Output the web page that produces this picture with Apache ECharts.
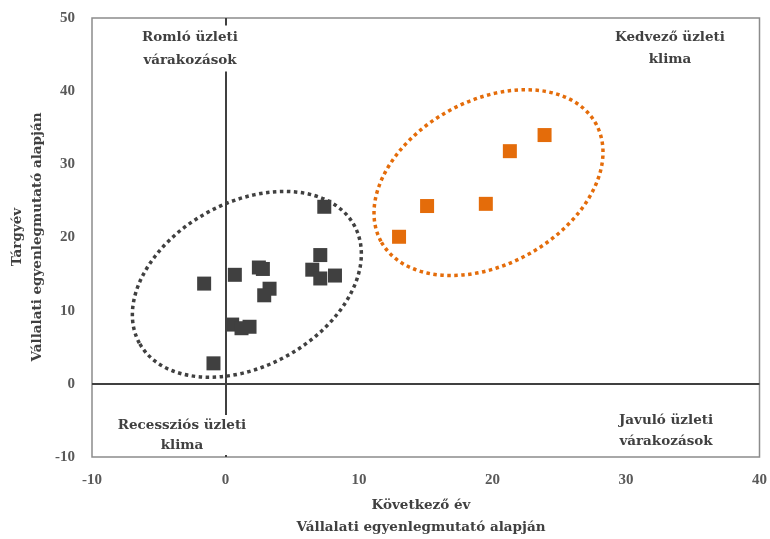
<!DOCTYPE html>
<html>
<head>
<meta charset="utf-8">
<script src="https://cdn.jsdelivr.net/npm/echarts@6/dist/echarts.min.js"></script>
<style>
  html, body { margin: 0; padding: 0; background: #fff; }
  #chart { width: 770px; height: 539px; }
</style>
</head>
<body>
<div id="chart"></div>
<script>
// Vállalati egyenlegmutató – következő év (x) vs. tárgyév (y)
const xTicks = [-10, 0, 10, 20, 30, 40];
const yTicks = [-10, 0, 10, 20, 30, 40, 50];

// Sötét csoport
const darkX = [7.4, -1.6, 0.7, 2.5, 2.8, 3.3, 2.9, 7.1, 6.5, 7.1, 8.2, 0.5, 1.2, 1.8, -0.9];
const darkY = [24.2, 13.7, 14.9, 15.9, 15.7, 13.0, 12.1, 17.6, 15.6, 14.4, 14.8, 8.1, 7.6, 7.8, 2.8];

// Narancs csoport
const orangeX = [13.0, 15.1, 19.5, 21.3, 23.9];
const orangeY = [20.1, 24.3, 24.6, 31.8, 34.0];

// Csoportokat körülvevő ellipszisek középpontja
const darkCenter = [1.6, 13.6];
const orangeCenter = [19.7, 27.5];

const DARK = '#404040';
const ORANGE = '#E46C0A';
const TEXT_FONT = '"DejaVu Serif", "Liberation Serif", serif';
const TICK_FONT = '"Liberation Serif", "DejaVu Serif", serif';

const zip = (xs, ys) => xs.map((x, i) => [x, ys[i]]);

function ellipseSeries(center, color) {
  return {
    type: 'custom',
    silent: true,
    z: 1,
    data: [center],
    renderItem: function (params, api) {
      const p = api.coord([api.value(0), api.value(1)]);
      return {
        type: 'ellipse',
        x: p[0],
        y: p[1],
        rotation: 0.5,
        shape: { cx: 0, cy: 0, rx: 122.5, ry: 82 },
        style: { fill: 'none', stroke: color, lineWidth: 3.5, lineDash: [3.5, 3.5] }
      };
    }
  };
}

const labelText = (text, x, y, lh, bg) => ({
  type: 'text',
  x: x, y: y, z: 100,
  style: {
    text: text,
    font: 'bold 13.5px ' + TEXT_FONT,
    fill: DARK,
    align: 'center',
    verticalAlign: 'middle',
    lineHeight: lh,
    backgroundColor: bg ? '#fff' : null
  }
});

const chart = echarts.init(document.getElementById('chart'));
chart.setOption({
  animation: false,
  backgroundColor: '#fff',
  grid: { left: 92, top: 18, right: 7, bottom: 82, show: true, borderColor: '#8c8c8c', borderWidth: 1.5 },
  xAxis: {
    type: 'value', min: xTicks[0], max: xTicks[xTicks.length - 1], interval: 10,
    axisLine: { show: false }, axisTick: { show: false }, splitLine: { show: false },
    axisLabel: { color: '#595959', fontWeight: 'bold', fontSize: 15, fontFamily: TICK_FONT, margin: 16 }
  },
  yAxis: {
    type: 'value', min: yTicks[0], max: yTicks[yTicks.length - 1], interval: 10,
    axisLine: { show: false }, axisTick: { show: false }, splitLine: { show: false },
    axisLabel: { color: '#595959', fontWeight: 'bold', fontSize: 15, fontFamily: TICK_FONT, margin: 17 }
  },
  series: [
    {
      type: 'scatter',
      symbol: 'rect',
      symbolSize: 14,
      z: 3,
      itemStyle: { color: DARK, opacity: 1 },
      data: zip(darkX, darkY),
      markLine: {
        silent: true,
        symbol: 'none',
        label: { show: false },
        lineStyle: { color: DARK, width: 2, type: 'solid' },
        data: [{ xAxis: 0 }, { yAxis: 0 }]
      }
    },
    {
      type: 'scatter',
      symbol: 'rect',
      symbolSize: 14,
      z: 3,
      itemStyle: { color: ORANGE, opacity: 1 },
      data: zip(orangeX, orangeY)
    },
    ellipseSeries(darkCenter, DARK),
    ellipseSeries(orangeCenter, ORANGE)
  ],
  graphic: [
    labelText('Romló üzleti\nvárakozások', 190, 48.5, 23, true),
    labelText('Kedvező üzleti\nklima', 670, 48.5, 22, false),
    labelText('Recessziós üzleti\nklima', 182, 435, 20, true),
    labelText('Javuló üzleti\nvárakozások', 666, 430.5, 21, false),
    {
      type: 'text', x: 421, y: 516.5, z: 100,
      style: {
        text: 'Következő év\nVállalati egyenlegmutató alapján',
        font: 'bold 13.5px ' + TEXT_FONT, fill: DARK, align: 'center', verticalAlign: 'middle', lineHeight: 22
      }
    },
    {
      type: 'text', x: 27, y: 237, z: 100, rotation: Math.PI / 2,
      style: {
        text: 'Tárgyév\nVállalati egyenlegmutató alapján',
        font: 'bold 13.5px ' + TEXT_FONT, fill: DARK, align: 'center', verticalAlign: 'middle', lineHeight: 20
      }
    }
  ]
});
</script>
</body>
</html>
